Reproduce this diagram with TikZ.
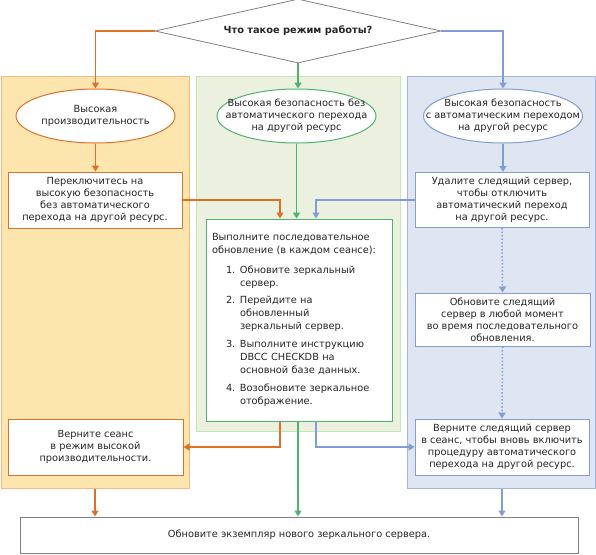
\documentclass[tikz,border=0pt]{standalone}
\usepackage{fontspec}
\setmainfont{DejaVu Sans}
\usetikzlibrary{positioning,arrows.meta,shapes.geometric}

\definecolor{orline}{HTML}{E07028}
\definecolor{orfill}{HTML}{FDE6AE}
\definecolor{orcol}{HTML}{F5B886}
\definecolor{gnline}{HTML}{52B172}
\definecolor{gnfill}{HTML}{ECF1DF}
\definecolor{gncol}{HTML}{C4E5B6}
\definecolor{blline}{HTML}{829CD4}
\definecolor{blfill}{HTML}{DFE6F2}
\definecolor{blcol}{HTML}{A3B6DE}

% one numbered step inside the rolling upgrade box
\newcommand{\upstep}[2]{\hspace*{14pt}\makebox[14pt][l]{#1}#2}
\newcommand{\upcont}[1]{\hspace*{28pt}#1}

\tikzset{
  lane/.style={draw, line width=1pt, minimum width=188pt, minimum height=412pt, inner sep=0pt},
  mode/.style={ellipse, draw, line width=1pt, fill=white, minimum width=159pt,
    minimum height=54pt, inner xsep=-30pt, inner ysep=-6pt, align=center},
  task/.style={rectangle, draw, line width=1pt, fill=white, align=center, inner sep=0pt},
  flow/.style={-{Triangle[width=7pt,length=6pt]}, line width=1.5pt},
}

\begin{document}
\begin{tikzpicture}[x=1pt, y=-1pt, font=\fontsize{9.8}{12}\selectfont, text=black!85]
\useasboundingbox (0,0) rectangle (596,554);

% lanes
\node [lane, draw=orcol, fill=orfill] (olane) at (95,282) {};
\node [lane, draw=gncol, fill=gnfill, minimum width=204pt, minimum height=355pt] (glane) at (298,253.5) {};
\node [lane, draw=blcol, fill=blfill] (blane) at (501,282) {};

% question
\node [diamond, aspect=4.5, draw=gray, line width=0.8pt, fill=white, minimum width=286pt,
  minimum height=64pt, inner sep=0pt, font=\fontsize{9.8}{12}\bfseries] (question) at (298,31)
  {Что такое режим работы?};

% modes
\node [mode, draw=orline] (hp) at (95.5,116) {Высокая\\производительность};
\node [mode, draw=gnline] (hs) at (296.5,116) {Высокая безопасность без\\автоматического перехода\\на другой ресурс};
\node [mode, draw=blline] (hsa) at (503,116) {Высокая безопасность\\с автоматическим переходом\\на другой ресурс};

% tasks
\node [task, draw=orline, minimum width=174pt, minimum height=56pt] (switch) at (95,200)
  {Переключитесь на\\высокую безопасность\\без автоматического\\перехода на другой ресурс.};
\node [task, draw=blline, minimum width=174pt, minimum height=55pt] (remove) at (502,200)
  {Удалите следящий сервер,\\чтобы отключить\\автоматический переход\\на другой ресурс.};
\node [task, draw=gnline, minimum width=186pt, minimum height=202pt, text width=174pt,
  inner xsep=6pt, align=left, font=\fontsize{9.8}{13}\selectfont] (rolling) at (299,320)
  {Выполните последовательное\\обновление (в каждом сеансе):\\[7pt]
   \upstep{1.}{Обновите зеркальный}\\\upcont{сервер.}\\[4pt]
   \upstep{2.}{Перейдите на}\\\upcont{обновленный}\\\upcont{зеркальный сервер.}\\[5pt]
   \upstep{3.}{Выполните инструкцию}\\\upcont{DBCC CHECKDB на}\\\upcont{основной базе данных.}\\[5pt]
   \upstep{4.}{Возобновите зеркальное}\\\upcont{отображение.}};
\node [task, draw=blline, minimum width=175pt, minimum height=53pt] (witness) at (502.5,319.5)
  {Обновите следящий\\сервер в любой момент\\во время последовательного\\обновления.};
\node [task, draw=blline, minimum width=174pt, minimum height=56pt] (resume) at (502,447)
  {Верните следящий сервер\\в сеанс, чтобы вновь включить\\процедуру автоматического\\перехода на другой ресурс.};
\node [task, draw=orline, minimum width=175pt, minimum height=56pt] (back) at (95.5,447)
  {Верните сеанс\\в режим высокой\\производительности.};
\node [task, draw=gray, minimum width=558pt, minimum height=36pt] (final) at (299,535)
  {Обновите экземпляр нового зеркального сервера.};

% connectors
\draw [flow, orline] (question.west) -| (hp.north);
\draw [flow, gnline] (question.south) -- (question.south |- hs.north);
\draw [flow, blline] (question.east) -| (hsa.north);
\draw [flow, orline] (hp.south) -- (hp.south |- switch.north);
\draw [flow, gnline] (hs.south) -- (hs.south |- rolling.north);
\draw [flow, blline] (hsa.south) -- (hsa.south |- remove.north);
\draw [flow, orline] (switch.east) -| ([xshift=-19pt]rolling.north);
\draw [flow, blline] (remove.west) -| ([xshift=17pt]rolling.north);
\draw [flow, blline, dotted] (remove.south) -- (witness.north);
\draw [flow, blline, dotted] (witness.south) -- (resume.north);
\draw [flow, orline] ([xshift=-19pt]rolling.south) |- (back.east);
\draw [flow, blline] ([xshift=17pt]rolling.south) |- (resume.west);
\draw [flow, gnline] ([xshift=-1pt]rolling.south) -- ([xshift=-1pt]rolling.south |- final.north);
\draw [flow, orline] (olane.south) -- (olane.south |- final.north);
\draw [flow, blline] (resume.south |- blane.south) -- (resume.south |- final.north);
\end{tikzpicture}
\end{document}
